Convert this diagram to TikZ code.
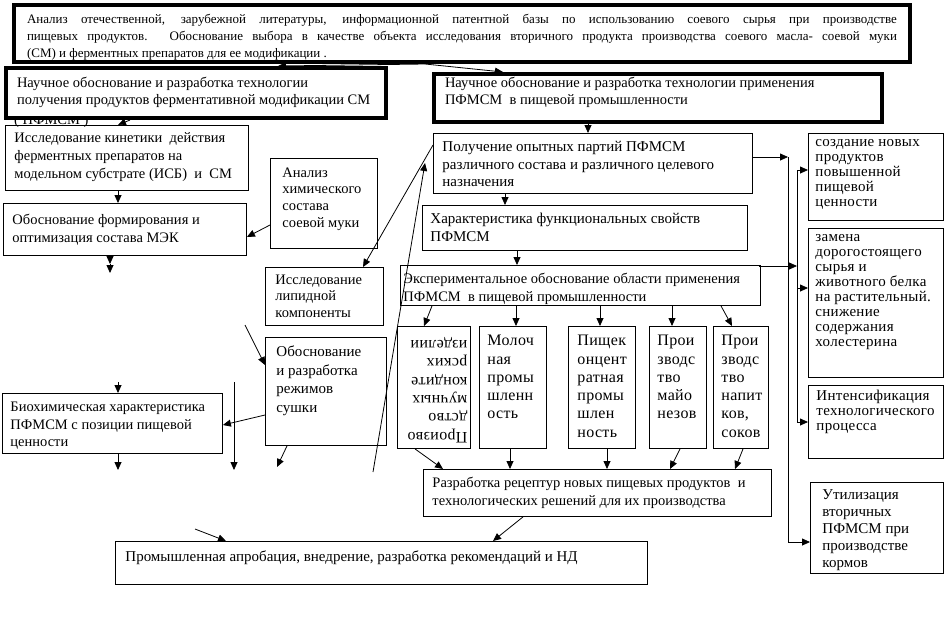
\documentclass[tikz,border=0pt]{standalone}
\usepackage{fontspec}
\setmainfont{Liberation Serif}
\newfontfamily\widefont{Liberation Serif}[LetterSpace=2]
\usetikzlibrary{arrows.meta}
\newcommand\fs[2]{\fontsize{#1}{#2}\selectfont}
\tikzset{
  padx/.store in=\bpadx, padt/.store in=\bpadt,
  box/.style={draw, line width=0.9pt, fill=white, anchor=north west, inner ysep=0pt,
    padx=9, padt=4, font=\fs{14.5}{18}},
  thickbox/.style={line width=4pt},
  arr/.style={line width=0.8pt, -{Triangle[length=8pt,width=7pt]}},
  ln/.style={line width=0.8pt}
}
% name, x1, y1, x2, y2, options, text
\newcommand\boxnode[7]{%
  \node[box,#6,inner xsep=\bpadx pt] (#1) at (#2,#3)
  {\begin{minipage}[c][\dimexpr #5pt-#3pt\relax][t]{\dimexpr #4pt-#2pt-\bpadx pt*2\relax}\raggedright\vspace*{\bpadt pt}\strut #7\end{minipage}};}
\begin{document}
\begin{tikzpicture}[x=1pt,y=-1pt]
\fill[white] (0,0) rectangle (949,622);
\useasboundingbox (0,0) rectangle (949,622);

% boxes
\boxnode{top}{12}{3}{908}{60}{thickbox,font=\fs{13}{17},padx=13,padt=7}{\rightskip=0pt\relax Анализ отечественной, зарубежной литературы, информационной патентной базы по использованию соевого сырья при производстве\linebreak пищевых продуктов. Обоснование выбора в качестве объекта исследования вторичного продукта производства соевого масла- соевой муки\linebreak (СМ) и ферментных препаратов для ее модификации .}

\boxnode{C}{5}{125}{248}{190}{padx=9,padt=4}{Исследование кинетики\ \ действия\\ ферментных препаратов на\\ модельном субстрате (ИСБ)\ \ и\ \ СМ}
\node[font=\fs{14.5}{18}, anchor=base west, inner sep=0pt] (note) at (14,124) {( ПФМСМ )};
\boxnode{A}{4}{66}{384}{116}{thickbox,padx=11,padt=8,font=\fs{14.5}{17}}{Научное обоснование и разработка технологии\\ получения продуктов ферментативной модификации СМ}
\boxnode{B}{432}{72}{880}{120}{thickbox,padx=11,padt=2,font=\fs{14.5}{17}}{Научное обоснование и разработка технологии применения\\ ПФМСМ\ \ в пищевой промышленности}

\boxnode{D}{3}{203}{246}{255}{padx=9,padt=8}{Обоснование формирования и\\ оптимизация состава МЭК}
\boxnode{E}{270}{158}{377}{248}{padx=12,padt=7,font=\fs{14.5}{16.7}}{Анализ\\ химического\\ состава\\ соевой муки}
\boxnode{F}{265}{267}{383}{325}{padx=10,padt=5,font=\fs{14.5}{16.7}}{Исследование\\ липидной\\ компоненты}
\boxnode{R}{265}{337}{386}{445}{padx=11,padt=6,font=\fs{15}{18.7}}{Обоснование\\ и разработка\\ режимов\\ сушки}
\boxnode{Q}{2}{393}{222}{453}{padx=8,padt=6,font=\fs{14.5}{17.5}}{Биохимическая характеристика\\ ПФМСМ с позиции пищевой\\ ценности}

\boxnode{G}{433}{133}{752}{193}{padx=9,padt=6,font=\fs{15}{17.5}}{Получение опытных партий ПФМСМ\\ различного состава и различного целевого\\ назначения}
\boxnode{H}{422}{205}{747}{250}{padx=8,padt=6,font=\fs{15}{17.5}}{Характеристика функциональных свойств\\ ПФМСМ}
\boxnode{I}{400}{265}{760}{305}{padx=3,padt=6,font=\fs{14.5}{17.5}}{Экспериментальное обоснование области применения\\ ПФМСМ\ \ в пищевой промышленности}

\boxnode{J}{808}{133}{943}{220}{padx=7,padt=2.5,font=\widefont\fs{15}{15}}{создание~новых\\ продуктов\\ повышенной\\ пищевой\\ ценности}
\boxnode{K}{808}{228}{943}{377}{padx=7,padt=2.5,font=\widefont\fs{15}{15}}{замена\\ дорогостоящего\\ сырья~и\\ животного~белка\\ на~растительный.\\ снижение\\ содержания\\ холестерина}
\boxnode{L}{808}{385}{943}{458}{padx=8,padt=5,font=\widefont\fs{15}{15}}{Интенсификация\\ технологического\\ процесса}
\boxnode{M}{810}{482}{943}{573}{padx=12,padt=5,font=\fs{15}{17}}{Утилизация\\ вторичных\\ ПФМСМ~при\\ производстве\\ кормов}

\node[box,font=\widefont\fs{16}{18.3},inner xsep=0pt] (P1) at (397,326)
  {\rotatebox{180}{\begin{minipage}[c][122pt][t]{73pt}\raggedright\leftskip=3pt\relax\vspace*{3.5pt}\strut Произво\\ дство\\ мучных\\ кондите\\ рских\\ изделии\end{minipage}}};
\boxnode{P2}{479}{326}{546}{448}{padx=8,padt=6.5,font=\widefont\fs{16}{18.3}}{Молоч\\ ная\\ промы\\ шленн\\ ость}
\boxnode{P3}{568}{326}{635}{448}{padx=9,padt=6.5,font=\widefont\fs{16}{18.3}}{Пищек\\ онцент\\ ратная\\ промы\\ шлен\\ ность}
\boxnode{P4}{649}{326}{706}{448}{padx=8,padt=6.5,font=\widefont\fs{16}{18.3}}{Прои\\ зводс\\ тво\\ майо\\ незов}
\boxnode{P5}{713}{326}{768}{448}{padx=8,padt=6.5,font=\widefont\fs{16}{18.3}}{Прои\\ зводс\\ тво\\ напит\\ ков,\\ соков}

\boxnode{N}{423}{469}{771}{516}{padx=9,padt=5}{Разработка рецептур новых пищевых продуктов\ \ и\\ технологических решений для их производства}
\boxnode{O}{115}{541}{647}{584}{padx=10,padt=7,font=\fs{15}{18}}{Промышленная апробация, внедрение, разработка рекомендаций и НД}

% free ends
\coordinate (d1) at (110,264);
\coordinate (d2) at (110,273);
\coordinate (l1) at (373,472);
\coordinate (r1) at (245,325);
\coordinate (r2) at (277,467);
\coordinate (q1) at (118,382);
\coordinate (q2) at (118,470);
\coordinate (v1) at (234,382);
\coordinate (v2) at (234,470);
\coordinate (o1) at (195,529);
\coordinate (ga) at (788,157);
\coordinate (b1) at (797,170);
\coordinate (bb) at (797,266);
\coordinate (b2) at (797,288);
\coordinate (b3) at (797,422);

% connectors
\draw[arr] ([xshift=413]top.south west) -- ([xshift=274]A.north west);
\draw[arr] ([xshift=413]top.south west) -- ([xshift=71]B.north west);
\draw[arr] ([xshift=126]A.south west) -- ([xshift=113]C.north west);
\draw[arr] ([xshift=113]C.south west) -- ([xshift=115]D.north west);
\draw[arr] ([yshift=-67]E.north west) -- ([yshift=-34]D.north east);
\draw[arr] ([xshift=107]D.south west) -- (d1);
\draw[arr] (d1) -- (d2);
\draw[arr] ([yshift=-12]G.north west) -- ([xshift=98]F.north west);
\draw[arr] (l1) -- ([xshift=-8,yshift=-30]G.north west);
\draw[arr] (r1) -- ([yshift=-28]R.north west);
\draw[arr] ([yshift=-78]R.north west) -- ([yshift=-32]Q.north east);
\draw[arr] ([xshift=22]R.south west) -- (r2);
\draw[arr] (q1) -- ([xshift=116]Q.north west);
\draw[arr] ([xshift=116]Q.south west) -- (q2);
\draw[arr] (v1) -- (v2);

\draw[arr] ([xshift=156]B.south west) -- ([xshift=155]G.north west);
\draw[arr] ([xshift=72]G.south west) -- ([xshift=83]H.north west);
\draw[arr] ([xshift=95]H.south west) -- ([xshift=117]I.north west);
\draw[arr] ([xshift=32]I.south west) -- ([xshift=27]P1.north west);
\draw[arr] ([xshift=116]I.south west) -- ([xshift=37]P2.north west);
\draw[arr] ([xshift=200]I.south west) -- ([xshift=32]P3.north west);
\draw[arr] ([xshift=272]I.south west) -- ([xshift=23]P4.north west);
\draw[arr] ([xshift=321]I.south west) -- ([xshift=19]P5.north west);
\draw[arr] ([xshift=18]P1.south west) -- ([xshift=20]N.north west);
\draw[arr] ([xshift=31]P2.south west) -- ([xshift=87]N.north west);
\draw[arr] ([xshift=39]P3.south west) -- ([xshift=184]N.north west);
\draw[arr] ([xshift=31]P4.south west) -- ([xshift=247]N.north west);
\draw[arr] ([xshift=30]P5.south west) -- ([xshift=312]N.north west);
\draw[arr] ([xshift=100]N.south west) -- ([xshift=378]O.north west);
\draw[arr] (o1) -- ([xshift=111]O.north west);

\draw[arr] ([yshift=-24]G.north east) -- (ga);
\draw[arr] (ga) |- ([yshift=-60]M.north west);
\draw[arr] ([xshift=-2,yshift=-1]I.north east) -- (bb);
\draw[ln] (b1) -- (b3);
\draw[arr] (b1) -- ([yshift=-37]J.north west);
\draw[arr] (b2) -- ([yshift=-60]K.north west);
\draw[arr] (b3) -- ([yshift=-37]L.north west);
\end{tikzpicture}
\end{document}
